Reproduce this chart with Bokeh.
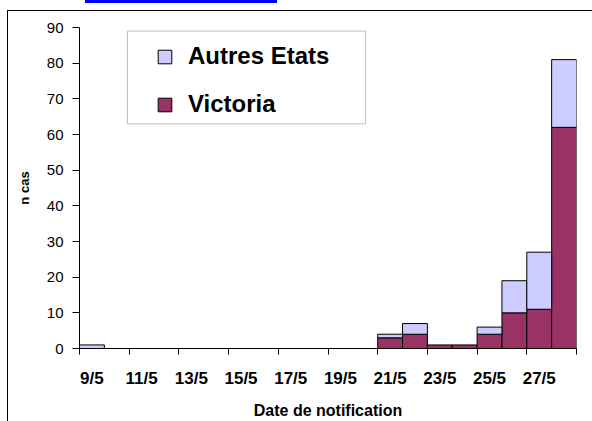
from bokeh.plotting import figure
from bokeh.models import FixedTicker, Legend, LegendItem, BoxAnnotation, Range1d
from bokeh.embed import file_html
from bokeh.resources import INLINE

dates = ["9/5", "10/5", "11/5", "12/5", "13/5", "14/5", "15/5", "16/5", "17/5", "18/5",
         "19/5", "20/5", "21/5", "22/5", "23/5", "24/5", "25/5", "26/5", "27/5", "28/5"]
victoria = [0, 0, 0, 0, 0, 0, 0, 0, 0, 0, 0, 0, 3, 4, 1, 1, 4, 10, 11, 62]
autres = [1, 0, 0, 0, 0, 0, 0, 0, 0, 0, 0, 0, 1, 3, 0, 0, 2, 9, 16, 19]
y_ticks = [0, 10, 20, 30, 40, 50, 60, 70, 80, 90]

FONT = "Liberation Sans"
C_VIC = "#993366"
C_AUT = "#CCCCFF"

xs = [i + 0.5 for i in range(len(dates))]
totals = [v + a for v, a in zip(victoria, autres)]

frame_css = ("linear-gradient(#000,#000) no-repeat 7px 10px / 1px 100%, "
             "linear-gradient(#000,#000) no-repeat 7px 10px / 100% 1px, "
             "linear-gradient(#0000ff,#0000ff) no-repeat 85px 0px / 192px 3px, white")

p = figure(width=592, height=421, output_backend="svg", toolbar_location=None,
           x_range=Range1d(0, len(dates)), y_range=Range1d(0, 90),
           min_border_left=79, min_border_right=16, min_border_top=27, min_border_bottom=71,
           styles={"background": frame_css})
p.outline_line_color = None
p.xgrid.visible = False
p.ygrid.visible = False
p.background_fill_color = "white"
p.border_fill_color = None

r_vic = p.vbar(x=xs, bottom=0, top=victoria, width=1.0, fill_color=C_VIC,
               line_color="black", line_width=1)
r_aut = p.vbar(x=[x for x, a in zip(xs, autres) if a > 0],
               bottom=[v for v, a in zip(victoria, autres) if a > 0],
               top=[t for t, a in zip(totals, autres) if a > 0],
               width=1.0, fill_color=C_AUT, line_color="black", line_width=1)

# x axis: labels at category centres every 2 days, ticks at boundaries
lab_pos = xs[0::2]
lab_txt = dates[0::2]
p.xaxis.ticker = FixedTicker(ticks=lab_pos, minor_ticks=[float(i) for i in range(0, len(dates) + 1, 2)])
p.xaxis.major_label_overrides = {x: t for x, t in zip(lab_pos, lab_txt)}
p.xaxis.major_tick_line_color = None
p.xaxis.major_tick_out = 0
p.xaxis.major_tick_in = 0
p.xaxis.minor_tick_line_color = "black"
p.xaxis.minor_tick_out = 6
p.xaxis.minor_tick_in = 0
p.xaxis.major_label_standoff = 14
p.xaxis.major_label_text_font = FONT
p.xaxis.major_label_text_font_style = "bold"
p.xaxis.major_label_text_font_size = "17px"
p.xaxis.major_label_text_color = "black"
p.xaxis.axis_label = "Date de notification"
p.xaxis.axis_label_text_font = FONT
p.xaxis.axis_label_text_font_style = "bold"
p.xaxis.axis_label_text_font_size = "16px"
p.xaxis.axis_label_text_color = "black"
p.xaxis.axis_label_standoff = 11
p.xaxis.axis_line_color = "black"

p.yaxis.ticker = FixedTicker(ticks=y_ticks)
p.yaxis.major_tick_out = 7
p.yaxis.major_tick_in = 0
p.yaxis.major_tick_line_color = "black"
p.yaxis.minor_tick_line_color = None
p.yaxis.major_label_standoff = 9
p.yaxis.major_label_text_font = FONT
p.yaxis.major_label_text_font_size = "15px"
p.yaxis.major_label_text_color = "black"
p.yaxis.axis_label = "n cas"
p.yaxis.axis_label_text_font = FONT
p.yaxis.axis_label_text_font_style = "bold"
p.yaxis.axis_label_text_font_size = "13px"
p.yaxis.axis_label_text_color = "black"
p.yaxis.axis_label_standoff = 12
p.yaxis.axis_line_color = "black"

# legend box
box = BoxAnnotation(left=1.93, right=11.51, bottom=63.0, top=89.0,
                    fill_color="white", fill_alpha=1.0, line_color="#333333", line_width=1)
p.add_layout(box)

legend = Legend(items=[LegendItem(label="Autres Etats", renderers=[r_aut]),
                       LegendItem(label="Victoria", renderers=[r_vic])],
                location=(77, 230), padding=0, margin=0, spacing=20,
                glyph_width=17, glyph_height=17, label_height=26, label_standoff=15,
                label_text_font=FONT, label_text_font_style="bold", label_text_font_size="24px",
                label_text_color="black",
                border_line_color=None, background_fill_alpha=0)
p.add_layout(legend, "center")

open("out.html", "w").write(file_html(p, INLINE))
